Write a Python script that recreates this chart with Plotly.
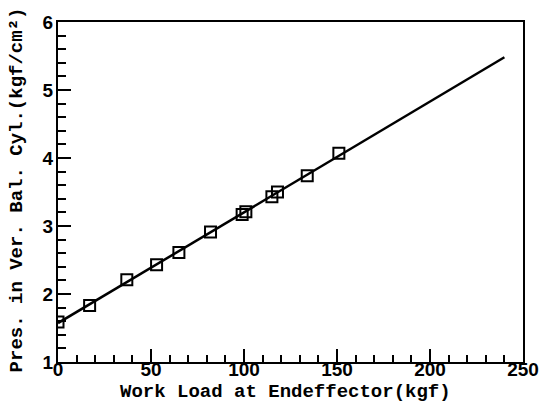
import numpy as np
import plotly.graph_objects as go

# Measured work load at the end effector (kgf) and balance-cylinder pressure (kgf/cm^2)
work_load = [0, 17, 37, 53, 65, 82, 99, 101, 115, 118, 134, 151]
pressure = [1.59, 1.83, 2.21, 2.43, 2.61, 2.91, 3.17, 3.21, 3.43, 3.50, 3.74, 4.07]

# Linear fit drawn over the range 0..240 kgf
fit_range = [0, 240]
slope, intercept = np.polyfit(work_load, pressure, 1)
fit_x = np.array(fit_range, dtype=float)
fit_y = intercept + slope * fit_x

x_ticks = [0, 50, 100, 150, 200, 250]
y_ticks = [1, 2, 3, 4, 5, 6]

label_font = dict(family="Liberation Mono", size=19, color="black")
tick_font = dict(family="Liberation Sans", size=19, color="black")

fig = go.Figure()
fig.add_trace(go.Scatter(
    x=fit_x, y=fit_y, mode="lines",
    line=dict(color="black", width=2.5),
    showlegend=False, hoverinfo="skip",
))
fig.add_trace(go.Scatter(
    x=work_load, y=pressure, mode="markers",
    marker=dict(symbol="square-open", size=11, color="black",
                line=dict(color="black", width=2)),
    showlegend=False,
))

axis_common = dict(
    showline=True, linecolor="black", linewidth=2, mirror=True,
    showgrid=False, zeroline=False,
    ticks="inside", ticklen=13, tickwidth=2, tickcolor="black",
    tickfont=tick_font,
)

fig.update_xaxes(
    range=[0, 250], tickvals=x_ticks, ticktext=[f"<b>{v}</b>" for v in x_ticks],
    ticklabelstandoff=-11,
    minor=dict(dtick=10, tick0=0, ticks="inside", ticklen=7, tickwidth=2,
               tickcolor="black", showgrid=False),
    **axis_common,
)
fig.update_yaxes(
    range=[1, 6], tickvals=y_ticks, ticktext=[f"<b>{v}</b>" for v in y_ticks],
    ticklabelstandoff=-1,
    minor=dict(dtick=0.2, tick0=1, ticks="inside", ticklen=8, tickwidth=2,
               tickcolor="black", showgrid=False),
    **axis_common,
)

fig.add_annotation(
    text="<b>Work Load at Endeffector(kgf)</b>",
    xref="paper", yref="paper", x=0.49, y=-0.05,
    xanchor="center", yanchor="top", showarrow=False, font=label_font,
)
fig.add_annotation(
    text="<b>Pres. in Ver. Bal. Cyl.(kgf/cm²)</b>",
    xref="paper", yref="paper", x=-0.06, y=0.505,
    xanchor="right", yanchor="middle", textangle=-90,
    showarrow=False, font=label_font,
)

fig.update_layout(
    width=551, height=414,
    margin=dict(l=58, r=20, t=12, b=52),
    paper_bgcolor="white", plot_bgcolor="white",
)

fig.write_html("out.html")
